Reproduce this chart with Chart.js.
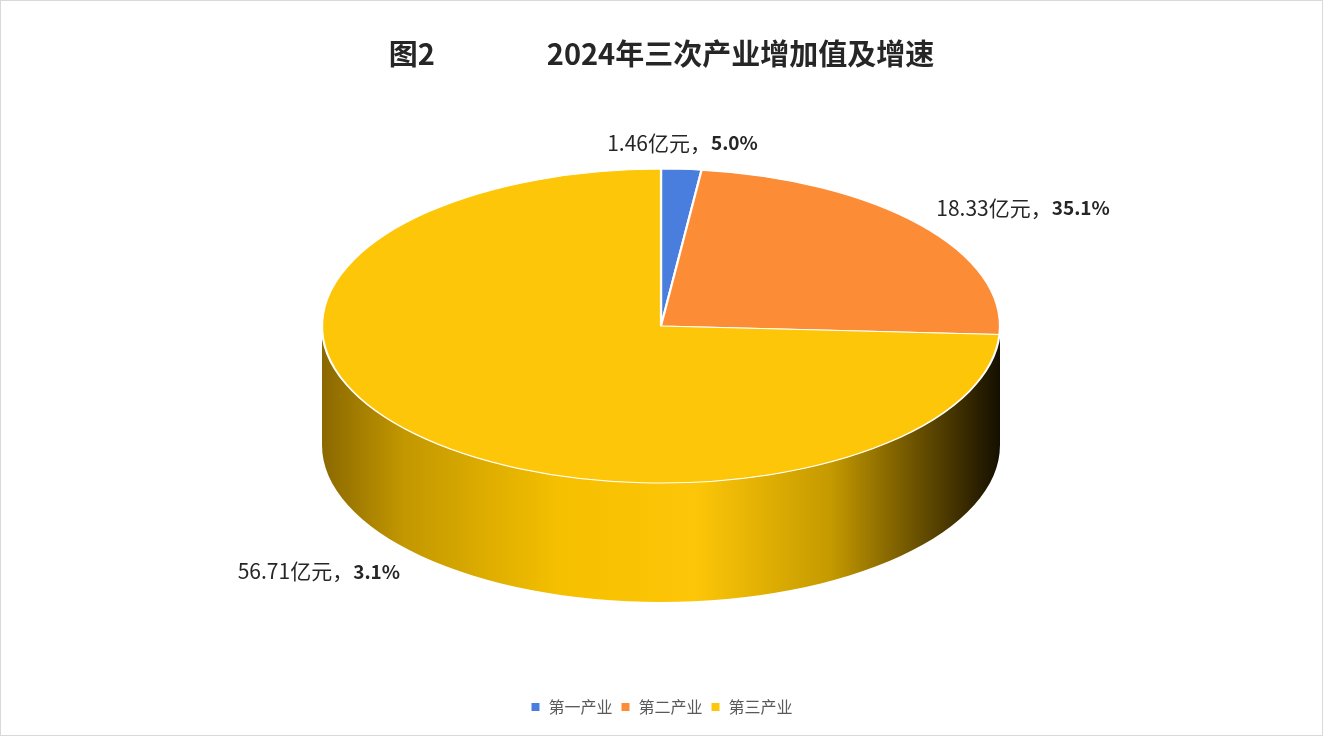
<!DOCTYPE html>
<html><head><meta charset="utf-8">
<script src="https://cdn.jsdelivr.net/npm/chart.js@4"></script>
<style>html,body{margin:0;padding:0;background:#fff}#w{width:1321px;height:734px;border:1px solid #d9d9d9}</style>
</head><body><div id="w"><canvas id="c" width="1321" height="734"></canvas></div>
<script>
const categories = ['第一产业','第二产业','第三产业'];
const values = [1.46, 18.33, 56.71];
const growth = ['5.0%','35.1%','3.1%'];
const colors = ['#4a7ede','#fd8c37','#fdc608'];
const E = {cx:660, cy:325, rx:339, ry:157, depth:119};
const fontCJK = '"Noto Sans CJK SC", "Noto Sans", sans-serif';

const elliptic = {
  id:'elliptic',
  beforeDatasetsDraw(chart){
    const ctx = chart.ctx;
    const a = chart.getDatasetMeta(0).data[0];
    ctx.save();
    const g = ctx.createLinearGradient(E.cx-E.rx,0,E.cx+E.rx,0);
    g.addColorStop(0,'#8a6800'); g.addColorStop(0.12,'#c29700'); g.addColorStop(0.35,'#f5c000');
    g.addColorStop(0.55,'#fdc608'); g.addColorStop(0.75,'#c59a00'); g.addColorStop(0.9,'#5a4400');
    g.addColorStop(1,'#140f00');
    ctx.beginPath();
    ctx.ellipse(E.cx,E.cy,E.rx,E.ry,0,0,Math.PI);
    ctx.lineTo(E.cx-E.rx,E.cy+E.depth);
    ctx.ellipse(E.cx,E.cy+E.depth,E.rx,E.ry,0,Math.PI,0,true);
    ctx.closePath();
    ctx.fillStyle=g; ctx.fill();
    ctx.restore();
    ctx.save();
    const r = a.outerRadius;
    ctx.translate(E.cx,E.cy); ctx.scale(E.rx/r,E.ry/r); ctx.translate(-a.x,-a.y);
  },
  afterDatasetsDraw(chart){
    const ctx = chart.ctx;
    ctx.restore();
    const meta = chart.getDatasetMeta(0);
    meta.data.forEach((arc,i)=>{
      const mid = (arc.startAngle+arc.endAngle)/2;
      const s = Math.cos(mid), c = Math.sin(mid);
      let x = E.cx + E.rx*1.06*s;
      let y = E.cy + E.ry*1.17*c + (c>0?E.depth:0);
      const t1 = values[i]+'亿元，', t2 = growth[i];
      ctx.save();
      ctx.textBaseline='middle';
      ctx.font = '21px '+fontCJK;
      const w1 = ctx.measureText(t1).width;
      ctx.font = 'bold 19px '+fontCJK;
      const w2 = ctx.measureText(t2).width;
      const w = w1+w2;
      let left = Math.abs(s)<0.3 ? x-w/2 : (s>0 ? x : x-w);
      ctx.fillStyle='#262626';
      ctx.font = '21px '+fontCJK; ctx.fillText(t1,left,y);
      ctx.font = 'bold 19px '+fontCJK; ctx.fillText(t2,left+w1,y);
      ctx.restore();
    });
  }
};

new Chart(document.getElementById('c'),{
  type:'pie',
  data:{labels:categories,datasets:[{data:values,backgroundColor:colors,borderColor:'#ffffff',borderWidth:2}]},
  options:{
    responsive:false, animation:false,
    layout:{padding:{top:10,bottom:10}},
    plugins:{
      title:{display:true,text:'图2                 2024年三次产业增加值及增速',color:'#262626',
        font:{size:29,family:fontCJK,weight:'bold'},padding:{top:26,bottom:16}},
      legend:{position:'bottom',labels:{color:'#595959',font:{size:16,family:fontCJK},
        boxWidth:10,boxHeight:10,padding:8}},
      tooltip:{enabled:false}
    }
  },
  plugins:[elliptic]
});
</script></body></html>
